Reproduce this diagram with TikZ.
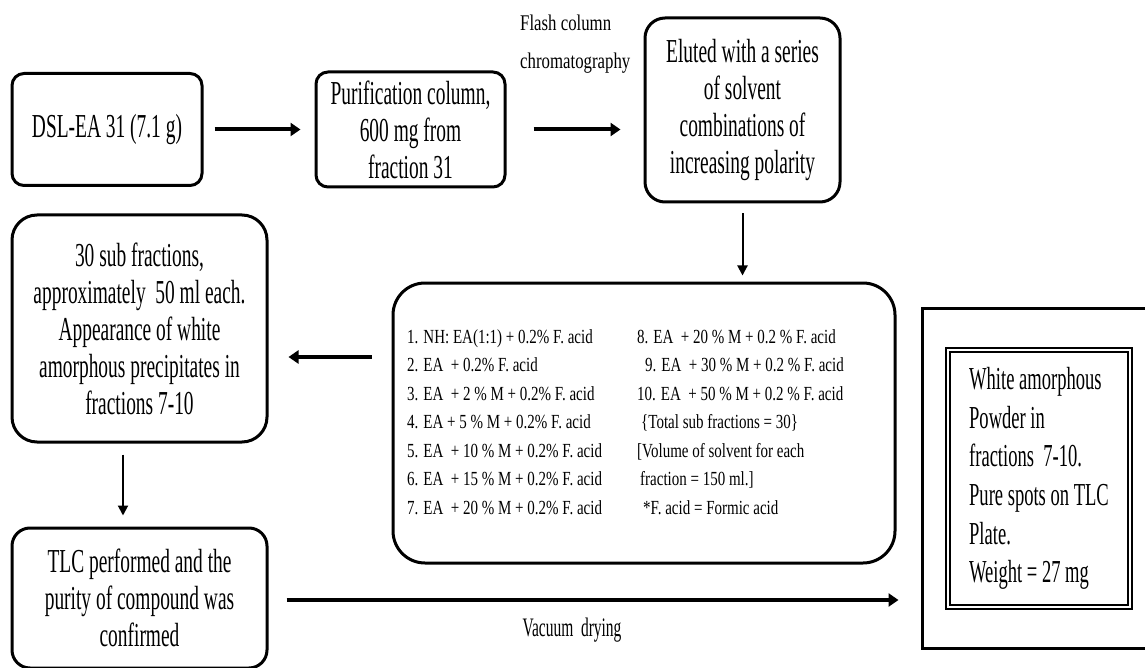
\documentclass[tikz,border=0pt]{standalone}
\usepackage{fontspec}
\setmainfont{Liberation Serif}[FakeStretch=0.58]
\newfontfamily\semifont{Liberation Serif}[FakeStretch=0.75]
\usetikzlibrary{calc,arrows.meta}

\tikzset{
  box/.style = {draw, line width=3pt, rounded corners=12pt, align=center, inner sep=0pt,
                font=\fontsize{33.5}{37}\selectfont},
  arr/.style = {-{Triangle[length=10pt,width=13pt]}, line width=4pt},
  thinarr/.style = {-{Triangle[length=10pt,width=10pt]}, line width=2pt},
  small/.style = {align=left, inner sep=0pt, font=\semifont\fontsize{20}{28.5}\selectfont}
}

\begin{document}
\begin{tikzpicture}[x=1pt,y=-1pt]
\useasboundingbox (0,0) rectangle (1145,668);

% top row
\node[box, minimum width=190pt, minimum height=112pt] (dsl) at (107,129.5) {DSL-EA 31 (7.1 g)};
\node[box, minimum width=189pt, minimum height=115pt] (pur) at (410.5,129.5) {Purification column,\\600 mg from\\fraction 31};
\node[box, rounded corners=20pt, minimum width=195pt, minimum height=184pt] (elu) at (742.5,110) {Eluted with a series\\of solvent\\combinations of\\increasing polarity};
\node[small, anchor=north west, font=\semifont\fontsize{22.4}{38}\selectfont] (fla) at (520,15) {Flash column\\chromatography};

\draw[arr, shorten <=11pt, shorten >=14pt] (dsl.east) -- (pur.west);
\draw[arr, shorten <=27pt, shorten >=23pt] (pur.east) -- (pur.east -| elu.west);

% solvent list
\node[box, rounded corners=32pt, minimum width=502pt, minimum height=280pt] (lst) at (644,423) {};
\node[small, anchor=north west] (lcol) at (407,329) {1. NH: EA(1:1) + 0.2\% F. acid\\
2. EA\ \ + 0.2\% F. acid\\
3. EA\ \ + 2 \% M + 0.2\% F. acid\\
4. EA + 5 \% M + 0.2\% F. acid\\
5. EA\ \ + 10 \% M + 0.2\% F. acid\\
6. EA\ \ + 15 \% M + 0.2\% F. acid\\
7. EA\ \ + 20 \% M + 0.2\% F. acid};
\node[small, anchor=north west] (rcol) at (637,329) {8. EA\ \ + 20 \% M + 0.2 \% F. acid\\
\hspace{8pt}9. EA\ \ + 30 \% M + 0.2 \% F. acid\\
10. EA\ \ + 50 \% M + 0.2 \% F. acid\\
\hspace{4pt}\{Total sub fractions = 30\}\\
{[}Volume of solvent for each\\
\hspace{3pt}fraction = 150 ml.]\\
\hspace{6pt}*F. acid = Formic acid};

\draw[thinarr, shorten <=10pt, shorten >=6pt] (elu.south) -- (elu.south |- lst.north);

% left column
\node[box, rounded corners=25pt, minimum width=255pt, minimum height=227pt] (sub) at (139.5,328.5) {30 sub fractions,\\approximately\ \ 50 ml each.\\Appearance of white\\amorphous precipitates in\\fractions 7-10};
\node[box, rounded corners=18pt, minimum width=255pt, minimum height=140pt] (tlc) at (139.5,598) {TLC performed and the\\purity of compound was\\confirmed};

\coordinate (lvl) at (0,357);
\draw[arr, shorten <=20pt, shorten >=20pt] (lst.west |- lvl) -- (sub.east |- lvl);
\coordinate (dcol) at (123,0);
\draw[thinarr, shorten <=11pt, shorten >=11pt] (sub.south -| dcol) -- (tlc.north -| dcol);

% result
\node[draw, line width=3pt, minimum width=240pt, minimum height=340pt] (fin) at (1042,478) {};
\node[draw, line width=2.2pt, double, double distance=1.8pt, minimum width=182pt, minimum height=257pt,
      align=left, inner sep=0pt, font=\fontsize{32}{38.6}\selectfont] (res) at (1039,478.5)
      {White amorphous\\Powder in\\fractions\ \ 7-10.\\Pure spots on TLC\\Plate.\\Weight = 27 mg};

\coordinate (vlvl) at (0,600);
\draw[arr, shorten <=18pt, shorten >=22pt] (tlc.east |- vlvl) -- (fin.west |- vlvl);
\node[font=\fontsize{26.7}{30}\selectfont] (vac) at (572,630) {Vacuum\ \ drying};
\end{tikzpicture}
\end{document}
